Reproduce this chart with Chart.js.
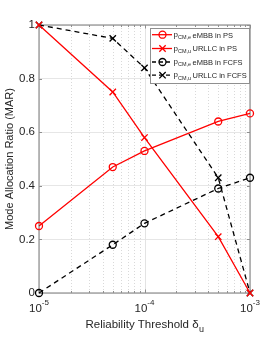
<!DOCTYPE html>
<html><head><meta charset="utf-8">
<script src="https://cdn.jsdelivr.net/npm/chart.js@4"></script>
<style>html,body{margin:0;padding:0;background:#fff}#wrap{width:277px;height:337px;position:relative}</style>
</head><body><div id="wrap"><canvas id="c"></canvas></div>
<script>
const thresholds = [1e-5, 5e-5, 1e-4, 5e-4, 1e-3];
const psEmbb = [0.25, 0.47, 0.53, 0.64, 0.67];
const psUrllc = [1, 0.75, 0.58, 0.21, 0];
const fcfsEmbb = [0, 0.18, 0.26, 0.39, 0.43];
const fcfsUrllc = [1, 0.95, 0.84, 0.43, 0];
const seriesNames = ['eMBB in PS', 'URLLC in PS', 'eMBB in FCFS', 'URLLC in FCFS'];
const seriesSubs = ['CM,e', 'CM,u', 'CM,e', 'CM,u'];
const yTicks = [0, 0.2, 0.4, 0.6, 0.8, 1];
const yTickLabels = ['0', '0.2', '0.4', '0.6', '0.8', '1'];
const xMajor = [1e-5, 1e-4, 1e-3];
const xMajorExp = ['-5', '-4', '-3'];
const xTitle = 'Reliability Threshold \u03b4';
const xTitleSub = 'u';
const yTitle = 'Mode Allocation Ratio (MAR)';

const FONT = "'Liberation Sans', Arial, Helvetica, sans-serif";
const TXT = '#262626';
const AXC = '#8f8f8f';

function pts(vals) { return thresholds.map((t, i) => ({x: t, y: vals[i]})); }

const styles = [
  {color: '#ff0000', dash: [], marker: 'circle', r: 3.5},
  {color: '#ff0000', dash: [], marker: 'crossRot', r: 4.5},
  {color: '#000000', dash: [5, 4], marker: 'circle', r: 3.5},
  {color: '#000000', dash: [5, 4], marker: 'crossRot', r: 4.5}
];
const seriesVals = [psEmbb, psUrllc, fcfsEmbb, fcfsUrllc];

const datasets = seriesVals.map((v, i) => ({
  label: seriesNames[i],
  data: pts(v),
  borderColor: styles[i].color,
  borderWidth: 1.3,
  borderDash: styles[i].dash,
  pointStyle: styles[i].marker,
  pointRadius: styles[i].r,
  pointBorderWidth: 1.3,
  pointBorderColor: styles[i].color,
  pointBackgroundColor: 'rgba(0,0,0,0)',
  fill: false,
  tension: 0,
  clip: false
}));

function minorVals() {
  const out = [];
  for (let e = -5; e < -3; e++) for (let m = 1; m <= 9; m++) out.push(m * Math.pow(10, e));
  out.push(1e-3);
  return out;
}

function drawMarker(ctx, style, x, y, r, color) {
  ctx.save();
  ctx.strokeStyle = color; ctx.lineWidth = 1.3; ctx.setLineDash([]);
  ctx.beginPath();
  if (style === 'circle') {
    ctx.arc(x, y, r, 0, Math.PI * 2);
  } else {
    const d = r * Math.SQRT1_2;
    ctx.moveTo(x - d, y - d); ctx.lineTo(x + d, y + d);
    ctx.moveTo(x - d, y + d); ctx.lineTo(x + d, y - d);
  }
  ctx.stroke();
  ctx.restore();
}

const decor = {
  id: 'decor',
  beforeDatasetsDraw(chart) {
    const {ctx, chartArea: a, scales: {x, y}} = chart;
    ctx.save();
    // minor dotted x grid
    ctx.strokeStyle = '#d9d9d9'; ctx.lineWidth = 1; ctx.setLineDash([1, 2]);
    minorVals().forEach(v => {
      if (xMajor.includes(v)) return;
      const px = Math.round(x.getPixelForValue(v)) + 0.5;
      ctx.beginPath(); ctx.moveTo(px, a.top); ctx.lineTo(px, a.bottom); ctx.stroke();
    });
    ctx.setLineDash([]);
    ctx.strokeStyle = '#e3e3e3';
    xMajor.forEach(v => {
      const px = Math.round(x.getPixelForValue(v)) + 0.5;
      ctx.beginPath(); ctx.moveTo(px, a.top); ctx.lineTo(px, a.bottom); ctx.stroke();
    });
    // box
    ctx.strokeStyle = AXC; ctx.lineWidth = 1.2;
    ctx.strokeRect(a.left, a.top, a.right - a.left, a.bottom - a.top);
    // inner ticks
    ctx.lineWidth = 1;
    yTicks.forEach(v => {
      const py = Math.round(y.getPixelForValue(v)) + 0.5;
      ctx.beginPath();
      ctx.moveTo(a.left, py); ctx.lineTo(a.left + 3, py);
      ctx.moveTo(a.right, py); ctx.lineTo(a.right - 3, py);
      ctx.stroke();
    });
    minorVals().forEach(v => {
      const px = Math.round(x.getPixelForValue(v)) + 0.5;
      const len = xMajor.includes(v) ? 3.5 : 2;
      ctx.beginPath();
      ctx.moveTo(px, a.bottom); ctx.lineTo(px, a.bottom - len);
      ctx.moveTo(px, a.top); ctx.lineTo(px, a.top + len);
      ctx.stroke();
    });
    ctx.restore();
  },
  afterDraw(chart) {
    const {ctx, chartArea: a, scales: {x}} = chart;
    ctx.save();
    ctx.fillStyle = TXT;
    ctx.textBaseline = 'alphabetic';
    ctx.textAlign = 'left';
    // x tick labels 10^n
    xMajor.forEach((v, i) => {
      const px = x.getPixelForValue(v);
      ctx.font = '11.5px ' + FONT;
      const w1 = ctx.measureText('10').width;
      ctx.font = '8px ' + FONT;
      const w2 = ctx.measureText(xMajorExp[i]).width;
      const s = px - (w1 + w2) / 2;
      ctx.font = '11.5px ' + FONT;
      ctx.fillText('10', s, 311.5);
      ctx.font = '8px ' + FONT;
      ctx.fillText(xMajorExp[i], s + w1, 305);
    });
    // x title
    ctx.font = '11.5px ' + FONT;
    const tw = ctx.measureText(xTitle).width;
    ctx.font = '9px ' + FONT;
    const sw = ctx.measureText(xTitleSub).width;
    const cx = (a.left + a.right) / 2;
    const tx = cx - (tw + sw) / 2;
    ctx.font = '11.5px ' + FONT;
    ctx.fillText(xTitle, tx, 328);
    ctx.font = '9px ' + FONT;
    ctx.fillText(xTitleSub, tx + tw + 0.5, 332);

    // legend
    const L = 150, T = 28, W = 99, H = 55;
    ctx.fillStyle = '#ffffff';
    ctx.fillRect(L, T, W, H);
    ctx.strokeStyle = AXC; ctx.lineWidth = 1;
    ctx.strokeRect(L + 0.5, T + 0.5, W, H);
    const rows = [34.7, 48.5, 62, 75.2];
    rows.forEach((ry, i) => {
      const st = styles[i];
      ctx.save();
      ctx.strokeStyle = st.color; ctx.lineWidth = 1.3; ctx.setLineDash(st.dash.length ? [4, 3] : []);
      ctx.beginPath(); ctx.moveTo(152, ry); ctx.lineTo(172, ry); ctx.stroke();
      ctx.restore();
      drawMarker(ctx, st.marker, 162.5, ry, st.r, st.color);
      ctx.fillStyle = TXT;
      ctx.font = '8px ' + FONT;
      ctx.fillText('p', 173.5, ry + 2.2);
      const pw = ctx.measureText('p').width;
      ctx.font = '5.5px ' + FONT;
      ctx.fillText(seriesSubs[i], 173.5 + pw, ry + 4.3);
      ctx.font = '7.5px ' + FONT;
      ctx.fillText(seriesNames[i], 192.5, ry + 2.8);
    });
    ctx.restore();
  }
};

new Chart(document.getElementById('c'), {
  type: 'line',
  data: {datasets},
  plugins: [decor],
  options: {
    responsive: true,
    maintainAspectRatio: false,
    devicePixelRatio: 1,
    animation: false,
    layout: {padding: {top: 25, right: 27, left: 0, bottom: 0}},
    plugins: {legend: {display: false}, tooltip: {enabled: false}},
    scales: {
      x: {
        type: 'logarithmic',
        min: 1e-5, max: 1e-3,
        ticks: {display: false},
        grid: {display: false},
        border: {display: false},
        afterFit(s) { s.height = 44; }
      },
      y: {
        min: 0, max: 1,
        afterBuildTicks(s) { s.ticks = yTicks.map(v => ({value: v})); },
        ticks: {
          callback: (v) => { const i = yTicks.findIndex(t => Math.abs(t - v) < 1e-9); return i >= 0 ? yTickLabels[i] : ''; },
          font: {family: FONT, size: 11.5}, color: TXT, padding: 4
        },
        grid: {color: '#e6e6e6', drawTicks: false, lineWidth: 1},
        border: {display: false},
        title: {display: true, text: yTitle, font: {family: FONT, size: 11}, color: TXT, padding: {top: 3, bottom: 0}},
        afterFit(s) { s.width = 39; }
      }
    }
  }
});
</script></body></html>
